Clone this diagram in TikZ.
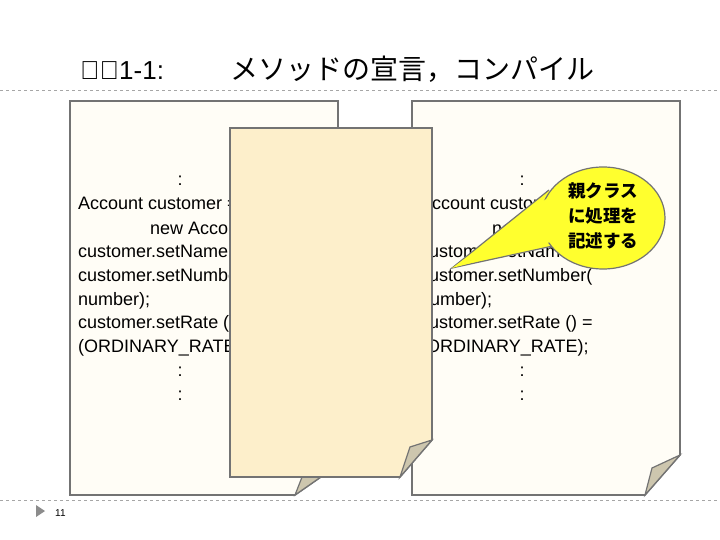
\documentclass[tikz,border=0pt]{standalone}
\usepackage{fontspec}
\setmainfont{Liberation Sans}
\newfontfamily\jp{Noto Sans CJK JP}
\begin{document}
\begin{tikzpicture}[x=1pt,y=-1pt,
  code/.style={anchor=base west,inner sep=0pt,font=\fontsize{18}{20}\selectfont},
  dots/.style={anchor=base,inner sep=0pt,font=\fontsize{18}{20}\selectfont},
  doc/.style={draw=black!55,line width=1.6pt,line join=miter},
  fold/.style={draw=black!55,line width=1.2pt,fill=foldc}]
\definecolor{docc}{HTML}{FFFDF6}
\definecolor{midc}{HTML}{FDEFCB}
\definecolor{foldc}{HTML}{CDC6AE}
\definecolor{yel}{HTML}{FFFF2E}
\fill[white] (0,0) rectangle (720,540);
\useasboundingbox (0,0) rectangle (720,540);
\node[font=\fontsize{26}{28}\selectfont,anchor=base west,inner sep=0pt] (title) at (80,80) {手順1-1:};
\node[font=\jp\fontsize{28}{30}\selectfont,anchor=base west,inner sep=0pt] (title2) at (230,80) {メソッドの宣言，コンパイル};
\draw[black!35,dashed,line width=0.6pt] (0,90) -- (720,90);
\draw[black!35,dashed,line width=0.6pt] (0,500) -- (720,500);
% left doc
\draw[doc,fill=docc] (70,101) -- (338,101) -- (338,465) -- (295,495) -- (70,495) -- cycle;
\draw[fold] (295,495) -- (304,472) -- (338,465) -- cycle;
% right doc
\draw[doc,fill=docc] (412,101) -- (680,101) -- (680,455) -- (645,495) -- (412,495) -- cycle;
\draw[fold] (645,495) -- (652,468) -- (680,455) -- cycle;
\foreach \ox/\nm in {0/l,342/r}{
\node[dots] (\nm0) at (180+\ox,186) {:};
\node[code] (\nm1) at (78+\ox,210) {Account customer =};
\node[code] (\nm2) at (150+\ox,234) {new Account();};
\node[code] (\nm3) at (78+\ox,258) {customer.setName(name);};
\node[code] (\nm4) at (78+\ox,281) {customer.setNumber(};
\node[code] (\nm5) at (78+\ox,305) {number);};
\node[code] (\nm6) at (78+\ox,328) {customer.setRate () =};
\node[code] (\nm7) at (78+\ox,352) {(ORDINARY\_RATE);};
\node[dots] (\nm8) at (180+\ox,376) {:};
\node[dots] (\nm9) at (180+\ox,400) {:};
}
% middle doc
\draw[doc,fill=midc] (230,128) -- (432,128) -- (432,440) -- (400,477) -- (230,477) -- cycle;
\draw[fold] (400,477) -- (410,447) -- (432,440) -- cycle;
% callout
\draw[black!55,line width=1.2pt,fill=yel] (562,244) -- (452,268) -- (549,190);
\fill[yel] (603,218) ellipse (62 and 51);
\draw[black!55,line width=1.2pt] (603,218) ellipse (62 and 51);
\fill[yel] (566,238) -- (452,268) -- (553,194) -- cycle;
\node[font=\jp\bfseries\fontsize{17.5}{25}\selectfont,align=center,inner sep=0pt] (call) at (603,216) {親クラス\\に処理を\\記述する};
% footer
\fill[black!45] (36,505) -- (45,511) -- (36,517) -- cycle;
\node[font=\fontsize{10}{12}\selectfont,anchor=west,inner sep=0pt] (pg) at (55,513) {11};
\end{tikzpicture}
\end{document}
